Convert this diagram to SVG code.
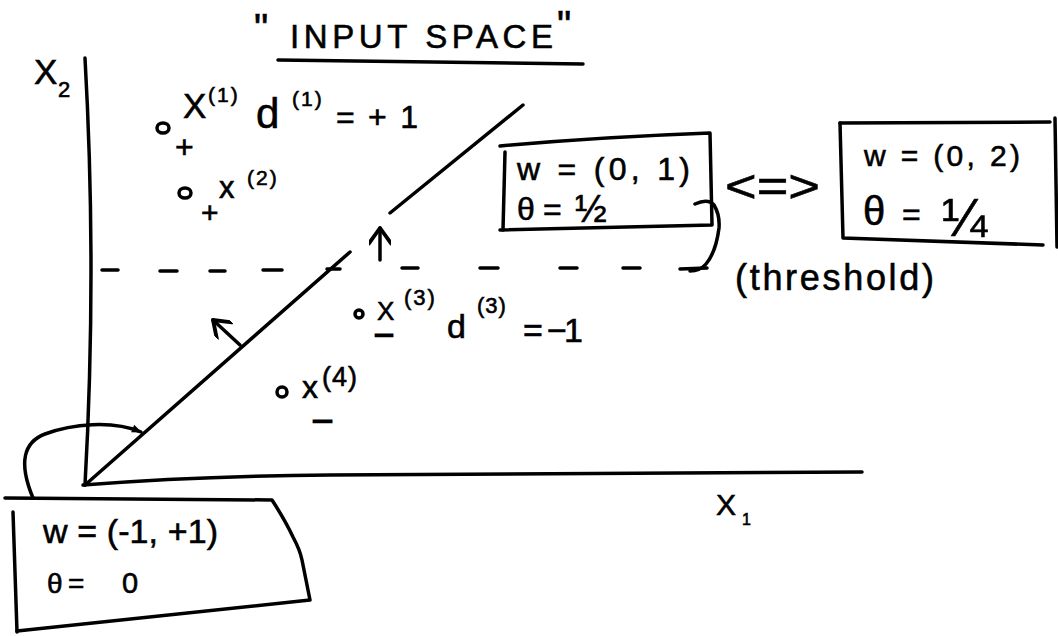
<svg xmlns="http://www.w3.org/2000/svg" width="1058" height="636" viewBox="0 0 1058 636">
<style>
.ln{fill:none;stroke:#000;stroke-width:3.5;stroke-linecap:round;stroke-linejoin:round}
.t{font-family:"Liberation Sans",Arial,sans-serif;fill:#000;stroke:#000;stroke-width:0.6}
.m{stroke-width:2.5}
.box{fill:none;stroke:#000;stroke-width:3.5;stroke-linecap:round;stroke-linejoin:round}
</style>
<defs>
<marker id="ah" viewBox="0 0 20 20" refX="17" refY="10" markerUnits="userSpaceOnUse" markerWidth="22" markerHeight="22" orient="auto"><path d="M3,0 L17,10 L3,20" fill="none" stroke="#000" stroke-width="3.5" stroke-linecap="round" stroke-linejoin="round"/></marker>
<marker id="ahf" viewBox="0 0 10 10" refX="9" refY="5" markerUnits="userSpaceOnUse" markerWidth="12" markerHeight="10" orient="auto"><path d="M0,1 L10,5 L0,9 Z" fill="#000"/></marker>
</defs>
<rect width="1058" height="636" fill="#fff"/>

<g id="title">
<text class="t"><tspan x="254" y="42" font-size="40">"</tspan><tspan x="290" y="48" font-size="33" letter-spacing="4.6">INPUT SPACE</tspan><tspan x="557" y="39" font-size="40">"</tspan></text>
<path class="ln" d="M278,60 Q430,62 583,64"/>
</g>

<g id="axes">
<path class="ln" d="M85,58 Q97,270 85,485"/>
<path class="ln" d="M83,485 Q200,476 330,475 L862,472"/>
<text class="t"><tspan x="34" y="84" font-size="35">X</tspan><tspan x="58" y="97" font-size="22">2</tspan></text>
<text class="t"><tspan x="716" y="515" font-size="30">X</tspan><tspan x="742" y="525" font-size="16">1</tspan></text>
</g>

<g id="connectors">
<path class="ln" d="M85,485 L350,252"/>
<path class="ln" d="M390,213 L523,105"/>
<path class="ln" d="M102,270 L118,270 M160,271 L177,271 M210,271 L225,271 M263,270 L282,270 M327,269 L340,269 M402,268 L418,268 M480,268 L498,268 M560,268 L577,268 M623,268 L640,268 M680,269 L707,268"/>
<path class="ln" d="M240,345 L213,320" marker-end="url(#ah)"/>
<path class="ln" d="M380,260 L380,228" marker-end="url(#ah)"/>
<path class="ln" d="M33,498 C18,462 24,442 45,434 C72,424 112,420 141,432" marker-end="url(#ahf)"/>
<path class="ln" d="M695,204 Q708,198 714,205 Q720,215 719,228 Q716,252 706,264 Q700,271 690,271"/>
</g>

<g id="p1">
<ellipse cx="163" cy="128" rx="6" ry="5" class="ln"/>
<text class="t" x="183" y="118" font-size="35">X</text>
<text class="t" x="208" y="102" font-size="21" letter-spacing="2">(1)</text>
<text class="t" x="175" y="158" font-size="32">+</text>
<text class="t" x="256" y="128" font-size="42">d</text>
<text class="t" x="292" y="106" font-size="21" letter-spacing="2">(1)</text>
<text class="t" x="336" y="128" font-size="32" textLength="82" lengthAdjust="spacing">= + 1</text>
</g>

<g id="p2">
<ellipse cx="185" cy="193" rx="6" ry="5" class="ln"/>
<text class="t" x="201" y="223" font-size="30">+</text>
<text class="t" x="219" y="198" font-size="31">x</text>
<text class="t" x="247" y="185" font-size="21" letter-spacing="2">(2)</text>
</g>

<g id="p3">
<circle cx="359" cy="314" r="4" class="ln"/>
<text class="t" x="377" y="320" font-size="26">X</text>
<text class="t" x="404" y="305" font-size="22" letter-spacing="2">(3)</text>
<text class="t m" x="375" y="342" font-size="20" textLength="18" lengthAdjust="spacingAndGlyphs">−</text>
<text class="t" x="447" y="338" font-size="34">d</text>
<text class="t" x="477" y="313" font-size="22" letter-spacing="1">(3)</text>
<text class="t" x="523" y="342" font-size="34" textLength="60" lengthAdjust="spacing">= −1</text>
</g>

<g id="p4">
<circle cx="282" cy="392" r="5" class="ln"/>
<text class="t" x="302" y="398" font-size="32">x</text>
<text class="t" x="322" y="386" font-size="27" letter-spacing="1">(4)</text>
<text class="t m" x="313" y="428" font-size="20" textLength="19" lengthAdjust="spacingAndGlyphs">−</text>
</g>

<g id="box1">
<path class="box" d="M500,146 Q600,137 710,133 L712,225 L500,230"/>
<path class="box" d="M505,152 L503,230"/>
<text class="t" x="517" y="180" font-size="32" textLength="173" lengthAdjust="spacing">w = (0, 1)</text>
<text class="t"><tspan x="517" y="220" font-size="32">θ</tspan><tspan x="543" y="220" font-size="32">=</tspan><tspan x="575" y="222" font-size="38">½</tspan></text>
</g>

<g id="equiv">
<text class="t" x="725" y="202" font-size="46" textLength="95" lengthAdjust="spacingAndGlyphs">&lt;=&gt;</text>
</g>

<g id="box2">
<path class="box" d="M840,123 L1050,122"/>
<path class="box" d="M840,123 L843,238 L1043,245"/>
<path class="box" d="M1055,118 L1057,247"/>
<text class="t" x="864" y="166" font-size="30" textLength="156" lengthAdjust="spacing">w = (0, 2)</text>
<text class="t"><tspan x="863" y="225" font-size="40">θ</tspan><tspan x="902" y="225" font-size="32">=</tspan><tspan x="942" y="236" font-size="54">¼</tspan></text>
</g>

<g id="threshold">
<text class="t" x="735" y="290" font-size="36" textLength="199" lengthAdjust="spacing">(threshold)</text>
</g>

<g id="box3">
<path class="box" d="M5,498 L272,500 Q285,520 293,537 Q300,550 302,560 L310,600 L17,631"/>
<path class="box" d="M13,512 L17,632"/>
<text class="t" x="43" y="543" font-size="34" textLength="175" lengthAdjust="spacing">w = (-1, +1)</text>
<text class="t"><tspan x="47" y="593" font-size="28">θ</tspan><tspan x="68" y="593" font-size="28">=</tspan><tspan x="122" y="593" font-size="29">0</tspan></text>
</g>
</svg>
